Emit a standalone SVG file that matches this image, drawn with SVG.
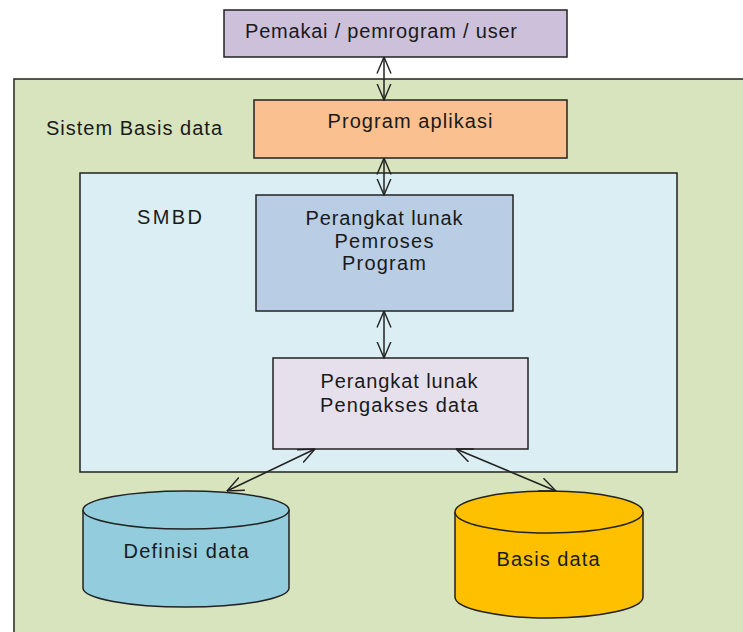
<svg xmlns="http://www.w3.org/2000/svg" width="743" height="632" viewBox="0 0 743 632">
<defs>
<marker id="ah" viewBox="0 0 17 16" refX="16.5" refY="8" markerWidth="17" markerHeight="16" markerUnits="userSpaceOnUse" orient="auto-start-reverse">
<path d="M0,1 L16.5,8 L0,15" fill="none" stroke="#222" stroke-width="1.4"/>
</marker>
<style>
text{font-family:"Liberation Sans",Arial,sans-serif;font-size:20px;fill:#1a1a1a}
.box{stroke:#222;stroke-width:1.5}
.c{text-anchor:middle}
.conn line{stroke:#222;stroke-width:1.5;marker-start:url(#ah);marker-end:url(#ah)}
</style>
</defs>
<rect width="743" height="632" fill="#ffffff"/>
<g id="sistem">
<rect class="box" x="14" y="79" width="740" height="570" fill="#d7e4bd"/>
<text x="46" y="135" textLength="176" lengthAdjust="spacing">Sistem Basis data</text>
</g>
<g id="user">
<rect class="box" x="224" y="10" width="343" height="47" fill="#ccc0da"/>
<text x="245" y="38" textLength="272" lengthAdjust="spacing">Pemakai / pemrogram / user</text>
</g>
<g id="program">
<rect class="box" x="254" y="100" width="313" height="58" fill="#fac090"/>
<text class="c" x="410" y="128" textLength="165" lengthAdjust="spacing">Program aplikasi</text>
</g>
<g id="smbd">
<rect class="box" x="80" y="173" width="597" height="299" fill="#dbeef4"/>
<text x="137" y="224" textLength="65" lengthAdjust="spacing">SMBD</text>
</g>
<g id="pemroses">
<rect class="box" x="256" y="195" width="257" height="116" fill="#b9cde5"/>
<text class="c" x="384" y="225" textLength="157" lengthAdjust="spacing">Perangkat lunak</text>
<text class="c" x="384" y="248" textLength="99" lengthAdjust="spacing">Pemroses</text>
<text class="c" x="384" y="270" textLength="84" lengthAdjust="spacing">Program</text>
</g>
<g id="pengakses">
<rect class="box" x="273" y="358" width="255" height="91" fill="#e6e0ec"/>
<text class="c" x="399" y="388" textLength="157" lengthAdjust="spacing">Perangkat lunak</text>
<text class="c" x="399" y="412" textLength="158" lengthAdjust="spacing">Pengakses data</text>
</g>
<g id="definisi">
<path class="box" d="M83,510 L83,588 A103,19 0 0 0 289,588 L289,510" fill="#93cddd"/>
<ellipse class="box" cx="186" cy="510" rx="103" ry="19" fill="#93cddd"/>
<text class="c" x="186" y="558" textLength="125" lengthAdjust="spacing">Definisi data</text>
</g>
<g id="basis">
<path class="box" d="M455,512 L455,597 A94,21 0 0 0 643,597 L643,512" fill="#ffc000"/>
<ellipse class="box" cx="549" cy="512" rx="94" ry="21" fill="#ffc000"/>
<text class="c" x="548" y="566" textLength="103" lengthAdjust="spacing">Basis data</text>
</g>
<g class="conn" id="connectors">
<line x1="384" y1="57" x2="384" y2="100"/>
<line x1="384" y1="158" x2="384" y2="195"/>
<line x1="384" y1="311" x2="384" y2="358"/>
<line x1="315" y1="449" x2="227" y2="491"/>
<line x1="456" y1="449" x2="556" y2="491"/>
</g>
</svg>
